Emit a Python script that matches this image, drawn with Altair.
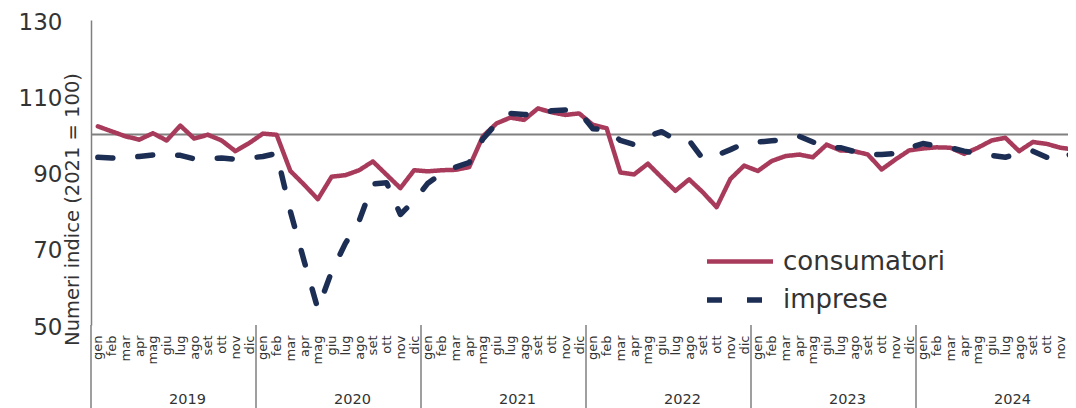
import altair as alt
import pandas as pd

months = ["gen", "feb", "mar", "apr", "mag", "giu", "lug", "ago", "set", "ott", "nov", "dic"]
years = ["2019", "2020", "2021", "2022", "2023", "2024"]

consumatori = [
    102.1, 100.8, 99.5, 98.6, 100.3, 98.4, 102.3, 98.9, 99.9, 98.4, 95.6, 97.7,
    100.2, 99.9, 90.4, 86.8, 83.0, 88.9, 89.3, 90.6, 92.9, 89.4, 85.9, 90.6,
    90.3, 90.6, 90.7, 91.4, 99.5, 102.9, 104.4, 103.8, 106.8, 105.8, 105.1, 105.5,
    102.5, 101.6, 90.0, 89.5, 92.3, 88.7, 85.2, 88.2, 84.8, 80.9, 88.3, 91.8,
    90.4, 93.0, 94.3, 94.7, 94.0, 97.3, 95.8, 95.6, 94.7, 90.8, 93.4, 95.8,
    96.3, 96.6, 96.5, 94.9, 96.5, 98.4, 99.1, 95.6, 98.0, 97.5, 96.5, 96.0,
]
imprese = [
    94.0, 93.8, 94.0, 94.2, 94.6, 94.6, 94.5, 93.6, 93.7, 93.8, 93.5, 93.8,
    94.2, 95.0, 79.8, 66.8, 54.2, 64.0, 71.4, 77.3, 87.0, 87.3, 79.0, 82.6,
    87.2, 89.7, 91.4, 92.6, 98.8, 102.9, 105.5, 105.2, 105.1, 106.2, 106.4, 106.0,
    101.5, 101.2, 98.4, 97.3, 99.5, 100.7, 98.6, 98.4, 93.6, 94.5, 96.0, 97.6,
    98.0, 98.3, 98.6, 99.5, 98.0, 96.6, 96.5, 95.5, 94.7, 94.7, 95.0, 96.5,
    97.6, 97.0, 96.5, 95.6, 95.0, 94.5, 94.0, 95.0, 95.6, 94.0, 93.0, 95.5,
]
series_names = ["consumatori", "imprese"]
colors = ["#A83B5B", "#1D2E54"]
y_ticks = [50, 70, 90, 110, 130]
reference_value = 100

n = len(consumatori)
rows = []
for name, vals in zip(series_names, [consumatori, imprese]):
    for i, v in enumerate(vals):
        rows.append({"serie": name, "pos": i + 0.5, "valore": v})
df = pd.DataFrame(rows)

year_df = pd.DataFrame({"anno": years, "start": [12 * k for k in range(len(years))],
                        "center": [12 * k + 6 for k in range(len(years))]})

MONTH_PX = 13.75
W, H = 977, 305
x_max = W / MONTH_PX
xscale = alt.Scale(domain=[0, x_max], nice=False, zero=False)
yscale = alt.Scale(domain=[50, 130], nice=False, zero=False)

label_expr = "[" + ",".join(f"'{m}'" for m in months) + "][floor(datum.value) % 12]"

xaxis = alt.Axis(values=[i + 0.5 for i in range(n)], labelExpr=label_expr, labelAngle=-90,
                 labelFontSize=13, labelColor="#333333", labelPadding=10, domain=False,
                 ticks=False, grid=False, title=None, labelOverlap=False, labelFlush=False,
                 labelBound=False)
yaxis = alt.Axis(values=y_ticks, labelFontSize=23, labelColor="#333333", labelPadding=29,
                 labelOffset=2,
                 ticks=False, grid=False, domain=True, domainColor="#7f7f7f", domainWidth=1.5,
                 title="Numeri indice (2021 = 100)", titleFontSize=19.5, titleFontWeight="normal",
                 titleColor="#333333", titleX=-9, titleY=189, titleAngle=-90,
                 titleBaseline="bottom", titleAlign="center")

legend = alt.Legend(title=None, orient="none", legendX=635, legendY=228,
                    symbolType="M-3,0H3", symbolSize=484, symbolStrokeWidth=5,
                    symbolFillColor="transparent",
                    labelFontSize=26, labelColor="#333333", labelOffset=29, rowPadding=11,
                    labelFont="DejaVu Sans", labelLimit=0)

ref = alt.Chart(pd.DataFrame({"v": [reference_value]})).mark_rule(
    color="#808080", strokeWidth=2).encode(y=alt.Y("v:Q", scale=yscale, axis=yaxis))

lines = alt.Chart(df).mark_line(strokeCap="round", strokeJoin="round").encode(
    x=alt.X("pos:Q", scale=xscale, axis=xaxis),
    y=alt.Y("valore:Q", scale=yscale, axis=yaxis),
    color=alt.Color("serie:N", scale=alt.Scale(domain=series_names, range=colors),
                    legend=legend),
    strokeDash=alt.StrokeDash("serie:N", scale=alt.Scale(domain=series_names,
                                                        range=[[1, 0], [15, 25]]),
                              legend=legend),
    strokeWidth=alt.StrokeWidth("serie:N", scale=alt.Scale(domain=series_names,
                                                          range=[4.5, 5.5]), legend=None),
)

seps = alt.Chart(year_df).mark_rule(color="#7f7f7f", strokeWidth=1.5).encode(
    x=alt.X("start:Q", scale=xscale, axis=xaxis),
    y=alt.value(H), y2=alt.value(H + 83))

ylabels = alt.Chart(year_df).mark_text(fontSize=14.5, color="#333333", dx=14,
                                       baseline="middle").encode(
    x=alt.X("center:Q", scale=xscale, axis=xaxis),
    y=alt.value(H + 75), text="anno:N")

chart = alt.layer(ref, lines, seps, ylabels).properties(
    width=W, height=H, autosize="none",
    padding={"left": 83, "top": 12, "right": 0, "bottom": 83},
).configure(font="DejaVu Sans").configure_view(stroke=None)

chart.save("out.html", embed_options={"renderer": "svg", "actions": False})
